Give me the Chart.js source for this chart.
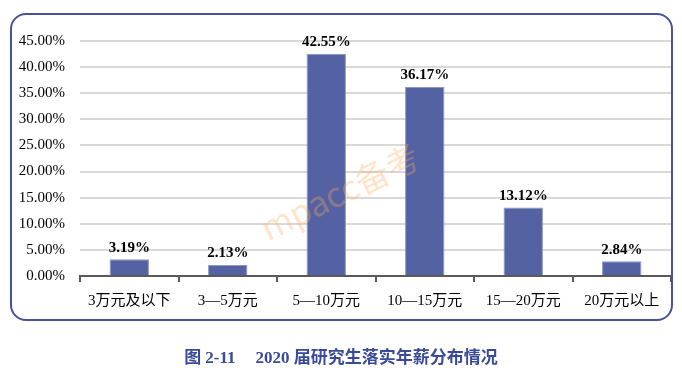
<!DOCTYPE html>
<html><head><meta charset="utf-8">
<script src="https://cdn.jsdelivr.net/npm/chart.js@4"></script>
<style>
html,body{margin:0;padding:0;background:#fff;width:682px;height:376px;overflow:hidden}
#wrap{position:absolute;left:0;top:0;width:682px;height:376px}
#frame{position:absolute;left:10px;top:13px;width:659px;height:304px;border:2px solid #4a519b;border-radius:16px;pointer-events:none}
#title{position:absolute;left:0;width:682px;top:343px;text-align:center;font:bold 17px "Liberation Serif","Noto Sans CJK SC",serif;color:#3a4a9a;white-space:pre}
#title span{margin-left:20px}
</style></head><body>
<div id="wrap"><canvas id="c" width="682" height="376"></canvas></div>
<div id="frame"></div>
<div id="title">图 2-11<span>2020 届研究生落实年薪分布情况</span></div>
<script>
const categories = ["3万元及以下","3—5万元","5—10万元","10—15万元","15—20万元","20万元以上"];
const values = [3.19, 2.13, 42.55, 36.17, 13.12, 2.84];
const yTicks = [0,5,10,15,20,25,30,35,40,45];
const watermark = "mpacc备考";

const serif = '"Liberation Serif","Noto Sans CJK SC",serif';

const labelPlugin = {
  id:'labels',
  afterDatasetsDraw(chart){
    const ctx = chart.ctx;
    const meta = chart.getDatasetMeta(0);
    ctx.save();
    ctx.font = 'bold 15px ' + serif;
    ctx.fillStyle = '#000';
    ctx.textAlign = 'center';
    ctx.textBaseline = 'bottom';
    meta.data.forEach((bar,i)=>{
      ctx.fillText(values[i].toFixed(2)+'%', bar.x, bar.y-4);
    });
    ctx.restore();
  },
  afterDraw(chart){
    const ctx = chart.ctx;
    ctx.save();
    ctx.translate(340,192);
    ctx.rotate(-26*Math.PI/180);
    ctx.font = '34px "Noto Sans CJK SC","DejaVu Sans",sans-serif';
    ctx.fillStyle = 'rgba(255,170,90,0.32)';
    ctx.textAlign = 'center';
    ctx.textBaseline = 'middle';
    ctx.fillText(watermark,0,0);
    ctx.restore();
  }
};

new Chart(document.getElementById('c'),{
  type:'bar',
  data:{labels:categories,datasets:[{data:values,backgroundColor:'#5462a3',borderColor:'#8d97c6',borderWidth:1,barPercentage:0.4,categoryPercentage:1}]},
  options:{
    responsive:false,animation:false,
    layout:{padding:{left:0,right:11,top:41,bottom:0}},
    plugins:{legend:{display:false},tooltip:{enabled:false}},
    scales:{
      x:{
        offset:true,
        grid:{offset:true,drawOnChartArea:false,drawTicks:true,tickLength:6,color:'#595959',lineWidth:2},
        border:{display:true,color:'#595959',width:2},
        ticks:{font:{family:serif,size:15},color:'#000',padding:10,maxRotation:0,autoSkip:false},
        afterFit(s){s.height=100;}
      },
      y:{
        min:0,max:45,
        afterBuildTicks(s){s.ticks=yTicks.map(v=>({value:v}));},
        grid:{color:'#d9d9d9',lineWidth:2,drawTicks:false},
        border:{display:false},
        ticks:{font:{family:serif,size:15},color:'#000',padding:15,callback:v=>v.toFixed(2)+'%'},
        afterFit(s){s.width=80;}
      }
    }
  },
  plugins:[labelPlugin]
});
</script>
</body></html>
